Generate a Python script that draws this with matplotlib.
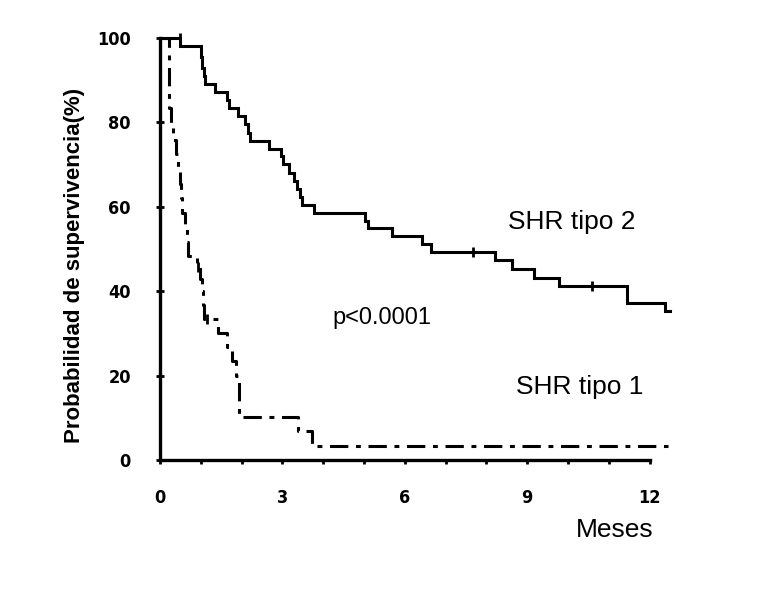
#!/usr/bin/env python3
"""Kaplan-Meier style survival curves: SHR tipo 1 vs SHR tipo 2."""

import matplotlib
matplotlib.use("Agg")
import matplotlib.pyplot as plt

# ── Data (months, survival %) ──
T2_TIME = [0, 0.50, 1.01, 1.04, 1.07, 1.11, 1.34, 1.64, 1.69, 1.92, 2.08, 2.15,
           2.21, 2.67, 2.96, 3.02, 3.16, 3.28, 3.36, 3.43, 3.49, 3.77, 5.03,
           5.10, 5.68, 6.43, 6.65, 8.20, 8.62, 9.16, 9.78, 11.45, 12.37, 12.5]
T2_SURV = [100, 98.0, 95.5, 93.0, 91.0, 89.0, 87.2, 85.3, 83.4, 81.5, 79.5, 77.5,
           75.6, 73.7, 72.0, 70.2, 68.0, 66.0, 64.2, 62.3, 60.5, 58.6, 56.7,
           54.9, 53.0, 51.2, 49.3, 47.3, 45.2, 43.2, 41.2, 37.2, 35.2, 35.2]
T2_CENS_T = [0.48, 7.66, 10.6]
T2_CENS_S = [100, 49.3, 41.2]

T1_TIME = [0, 0.22, 0.28, 0.33, 0.39, 0.45, 0.50, 0.52, 0.55, 0.62, 0.65, 0.69,
           0.90, 0.99, 1.02, 1.05, 1.08, 1.43, 1.65, 1.76, 1.87, 1.94, 3.38,
           3.73, 12.45]
T1_SURV = [100, 83.4, 79.3, 75.9, 72.4, 69.0, 65.5, 62.1, 58.6, 55.2, 51.7, 48.3,
           45.8, 43.0, 40.0, 36.7, 33.3, 30.0, 26.7, 23.5, 20.0, 10.2, 6.8,
           3.4, 3.4]
T1_CENS_T = [0.93, 1.16]
T1_CENS_S = [45.8, 33.3]

XTICKS = list(range(0, 13))
XLABELS = ["0" if m == 0 else (str(m) if m % 3 == 0 else "") for m in XTICKS]
YTICKS = [0, 20, 40, 60, 80, 100]

NARROW = ["DejaVu Sans"]
SANS = ["Liberation Sans", "DejaVu Sans"]


def main():
    fig = plt.figure(figsize=(7.78, 6.01), dpi=100)
    ax = fig.add_axes([0.2057, 0.2346, 0.6555, 0.7022])

    ax.step(T2_TIME, T2_SURV, where="post", color="black", lw=2.2,
            clip_on=False, solid_joinstyle="miter")
    ax.step(T1_TIME, T1_SURV, where="post", color="black", lw=2.2,
            linestyle=(0, (6, 2.5, 1.6, 2.5)), clip_on=False)
    ax.plot(T2_CENS_T, T2_CENS_S, "|", color="black", ms=7, mew=2, clip_on=False)
    ax.plot(T1_CENS_T, T1_CENS_S, "|", color="black", ms=7, mew=2, clip_on=False)

    ax.set_xlim(0, 12.5)
    ax.set_ylim(0, 100)
    for side in ("top", "right"):
        ax.spines[side].set_visible(False)
    ax.spines["left"].set_linewidth(2.4)
    ax.spines["bottom"].set_linewidth(2.4)
    ax.spines["bottom"].set_bounds(0, 12)

    ax.set_xticks(XTICKS)
    ax.set_xticklabels(XLABELS, fontfamily=NARROW, fontweight="bold",
                       fontstretch="condensed", fontsize=13)
    ax.set_yticks(YTICKS)
    ax.set_yticklabels([str(v) for v in YTICKS], fontfamily=NARROW,
                       fontweight="bold", fontstretch="condensed", fontsize=13)
    ax.tick_params(axis="y", direction="inout", length=6, width=2, pad=18)
    ax.tick_params(axis="x", direction="out", length=3, width=2, pad=18)

    ax.set_ylabel("Probabilidad de supervivencia(%)", fontfamily=SANS,
                  fontweight="bold", fontsize=16)
    ax.yaxis.set_label_coords(-0.147, 0.462)

    ax.text(10.09, 56.4, "SHR tipo 2", fontfamily=SANS, fontsize=19,
            ha="center", va="center")
    ax.text(10.28, 17.3, "SHR tipo 1", fontfamily=SANS, fontsize=19,
            ha="center", va="center")
    ax.text(5.45, 33.7, "p<0.0001", fontfamily=SANS, fontsize=17,
            ha="center", va="center")
    ax.text(11.14, -16.6, "Meses", fontfamily=SANS, fontsize=19,
            ha="center", va="center", clip_on=False)

    fig.savefig("out.png", dpi=100)
    plt.close(fig)


if __name__ == "__main__":
    main()
